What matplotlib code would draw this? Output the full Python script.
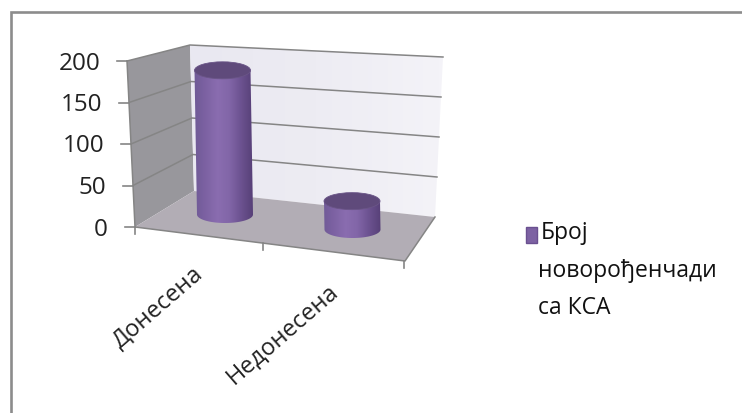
import numpy as np
import matplotlib
matplotlib.use("Agg")
import matplotlib.pyplot as plt
from matplotlib.patches import Polygon, Ellipse, PathPatch, Rectangle
from matplotlib.path import Path
from matplotlib.colors import LinearSegmentedColormap

categories = ["Донесена", "Недонесена"]
values = [178, 35]
y_ticks = [0, 50, 100, 150, 200]
legend_lines = ["Број", "новорођенчади", "са КСА"]

W, H = 742, 413
fig = plt.figure(figsize=(W / 100, H / 100), dpi=100)
ax = fig.add_axes([0, 0, 1, 1])
ax.set_xlim(0, W)
ax.set_ylim(H, 0)
ax.axis("off")
plt.rcParams["font.family"] = ["Open Sans", "DejaVu Sans"]

# Pseudo-3D frame corners (pixels)
FL0, FR0 = np.array([135, 227.0]), np.array([405, 261.0])
BL0, BR0 = np.array([194, 191.0]), np.array([435, 217.0])
FL2, BL2, BR2 = np.array([127, 61.0]), np.array([190, 45.0]), np.array([443, 57.0])

def lerp(a, b, t):
    return a + (b - a) * t

def front(v):
    return lerp(FL0, FL2, v / 200)

def backl(v):
    return lerp(BL0, BL2, v / 200)

def backr(v):
    return lerp(BR0, BR2, v / 200)

# outer frame
ax.plot([11, 11, W], [H, 12, 12], color="#8c8c8c", lw=1.9, solid_capstyle="butt",
        solid_joinstyle="miter")

# walls
ax.add_patch(Polygon([FL0, BL0, BL2, FL2], fc="#98979c", ec="none", zorder=1))
wall = Polygon([BL0, BR0, BR2, BL2], fc="none", ec="none", zorder=1)
ax.add_patch(wall)
wall_cmap = LinearSegmentedColormap.from_list("wall", ["#e9e8f1", "#edecf3", "#f4f3f8"])
wim = ax.imshow(np.linspace(0, 1, 64).reshape(1, -1), cmap=wall_cmap, aspect="auto", zorder=1,
                extent=[BL2[0], BR2[0], BR0[1], BL2[1]])
wim.set_clip_path(wall)
ax.add_patch(Polygon([FL0, FR0, BR0, BL0], fc="#b2adb5", ec="none", zorder=1))

grid = "#858585"
for v in y_ticks:
    if v:
        ax.plot(*zip(front(v), backl(v), backr(v)), color=grid, lw=1.1, zorder=2)
    p = front(v)
    ax.plot([p[0] - 10, p[0]], [p[1], p[1]], color=grid, lw=1.2, zorder=2)
    ax.text(p[0] - 27, p[1] + 2.5, str(v), ha="right", va="center", fontsize=17.5,
            color="#222222", zorder=5)
ax.plot(*zip(FL2, FL0, FR0, BR0), color=grid, lw=1.1, zorder=2)
for t in [0, 0.475, 0.995]:
    p = lerp(FL0, FR0, t)
    ax.plot([p[0], p[0]], [p[1], p[1] + 7], color=grid, lw=1.2, zorder=2)

# cylinders
cmap = LinearSegmentedColormap.from_list(
    "cyl", ["#6f5a96", "#7d62a3", "#8a6db0", "#8266a8", "#6c5290", "#574078"])
grad = np.linspace(0, 1, 128).reshape(1, -1)
base_c = [np.array([225.0, 214.5]), np.array([352.5, 229.5])]
rx, ry = 28, 8.5
for c, v in zip(base_c, values):
    scale = 0.81
    top = c + np.array([-0.014 * v, -scale * v])
    th = np.linspace(0, np.pi, 60)
    lower = np.c_[c[0] + rx * np.cos(th), c[1] + ry * np.sin(th)]
    verts = np.vstack([[top + [rx, 0]], lower, [top - [rx, 0]], [top + [rx, 0]]])
    patch = PathPatch(Path(verts), fc="none", ec="none", zorder=3)
    ax.add_patch(patch)
    im = ax.imshow(grad, cmap=cmap, aspect="auto", zorder=3,
                   extent=[c[0] - rx - 3, c[0] + rx, c[1] + ry, top[1]])
    im.set_clip_path(patch)
    ax.add_patch(Ellipse(top, 2 * rx, 2 * ry, fc="#5f4a7b", ec="#6a5587", lw=0.6, zorder=4))
ax.set_xlim(0, W)
ax.set_ylim(H, 0)

# category labels
for t, name in zip([0.25, 0.75], categories):
    p = lerp(FL0, FR0, t)
    ax.text(p[0] - 10, p[1] + 27, name, rotation=41, rotation_mode="anchor", ha="right", va="top",
            fontsize=17, color="#222222", zorder=5)

# legend
ax.add_patch(Rectangle((526, 227), 11, 16, fc="#7d62a3", ec="#6a5090", lw=1, zorder=5))
for x, y, line in zip([541, 538, 538], [233, 271, 308], legend_lines):
    ax.text(x, y, line, ha="left", va="center", fontsize=16.5, color="#111111", zorder=5)

fig.savefig("out.png", dpi=100)
